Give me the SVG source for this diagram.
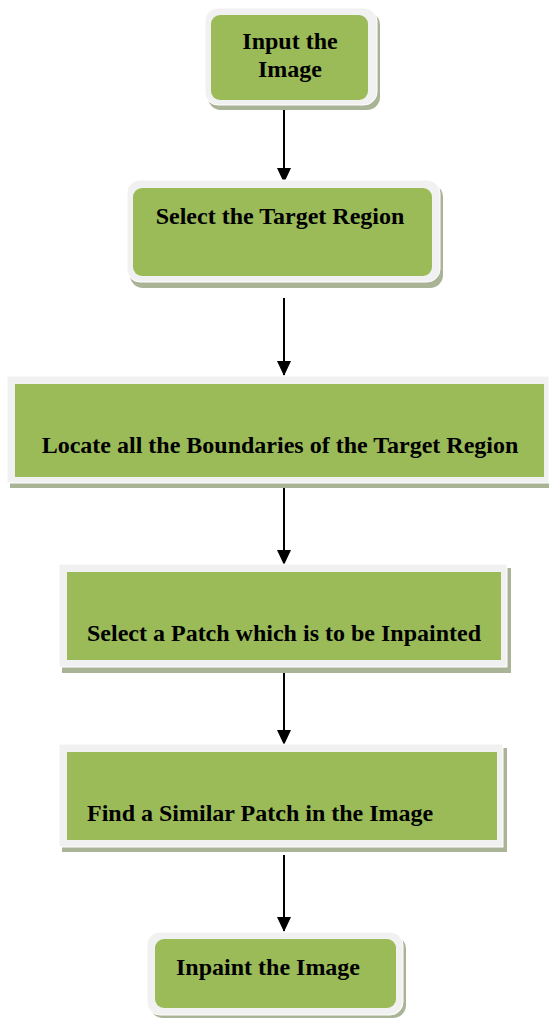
<svg xmlns="http://www.w3.org/2000/svg" width="549" height="1018" viewBox="0 0 549 1018">
<defs>
<style>
.sh{fill:#a9b396}
.fr{fill:#f1f1f1;stroke:#ffffff;stroke-width:1}
.gr{fill:#9bbb59}
.t{font-family:"Liberation Serif","Times New Roman",serif;font-weight:bold;font-size:24px;fill:#000}
.c{stroke:#000;stroke-width:2;fill:none;marker-end:url(#ah)}
</style>
<marker id="ah" viewBox="0 0 15 14" refX="14" refY="7" markerWidth="15" markerHeight="14" markerUnits="userSpaceOnUse" orient="auto">
<path d="M0,0 L15,7 L0,14 Z" fill="#000"/>
</marker>
</defs>
<rect width="549" height="1018" fill="#fff"/>
<g id="connectors">
<path class="c" d="M284,103 V182"/>
<path class="c" d="M284,298 V375"/>
<path class="c" d="M284,487 V564"/>
<path class="c" d="M284,667 V744"/>
<path class="c" d="M284,855 V931"/>
</g>
<g id="n1">
<rect class="sh" x="208" y="12" width="172" height="98" rx="13"/>
<rect class="fr" x="205" y="8" width="172" height="97" rx="13"/>
<rect class="gr" x="211" y="15" width="157" height="85" rx="9"/>
<text class="t" x="290" y="49" text-anchor="middle">Input the</text>
<text class="t" x="290" y="77" text-anchor="middle">Image</text>
</g>
<g id="n2">
<rect class="sh" x="130" y="184" width="313" height="104" rx="13"/>
<rect class="fr" x="127" y="180" width="313" height="102" rx="13"/>
<rect class="gr" x="133" y="188" width="299" height="88" rx="9"/>
<text class="t" x="280" y="224" text-anchor="middle">Select the Target Region</text>
</g>
<g id="n3">
<rect class="sh" x="10" y="380" width="539" height="108"/>
<rect class="fr" x="7" y="376" width="542" height="107"/>
<rect class="gr" x="15" y="384" width="529" height="93"/>
<text class="t" x="280" y="453" text-anchor="middle">Locate all the Boundaries of the Target Region</text>
</g>
<g id="n4">
<rect class="sh" x="62" y="568" width="449" height="105"/>
<rect class="fr" x="59" y="564" width="448" height="103"/>
<rect class="gr" x="67" y="572" width="434" height="88"/>
<text class="t" x="87" y="641">Select a Patch which is to be Inpainted</text>
</g>
<g id="n5">
<rect class="sh" x="62" y="748" width="445" height="104"/>
<rect class="fr" x="59" y="744" width="444" height="103"/>
<rect class="gr" x="67" y="752" width="430" height="88"/>
<text class="t" x="87" y="821">Find a Similar Patch in the Image</text>
</g>
<g id="n6">
<rect class="sh" x="150" y="936" width="256" height="82" rx="13"/>
<rect class="fr" x="147" y="932" width="256" height="83" rx="13"/>
<rect class="gr" x="155" y="939" width="241" height="69" rx="9"/>
<text class="t" x="176" y="975">Inpaint the Image</text>
</g>
</svg>
